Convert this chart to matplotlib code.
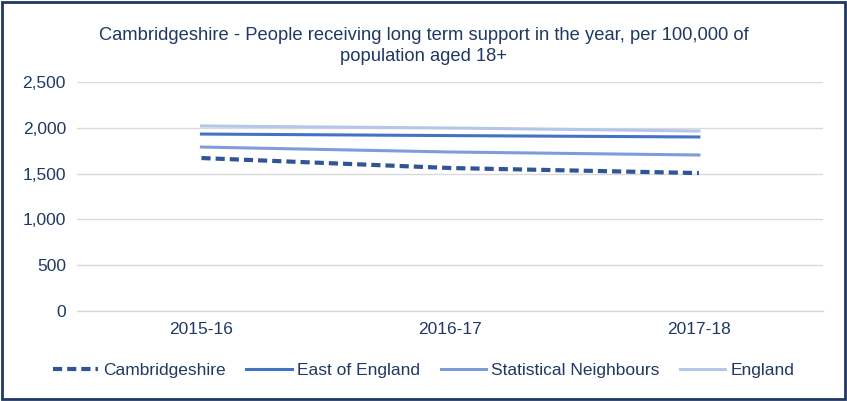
import matplotlib.pyplot as plt
from matplotlib.patches import Rectangle
from matplotlib.ticker import FuncFormatter

years = ["2015-16", "2016-17", "2017-18"]
cambs = [1670, 1561, 1506]
east = [1932, 1915, 1900]
stat_neigh = [1790, 1736, 1703]
england = [2020, 1998, 1965]

txt = "#1F3864"
plt.rcParams['font.family'] = ['Liberation Sans', 'DejaVu Sans']

fig = plt.figure(figsize=(8.47, 4.01), dpi=100)
ax = fig.add_axes([0.091, 0.2244, 0.881, 0.5711])

x = range(len(years))
ax.plot(x, cambs, color="#2F5597", lw=3, ls=(0, (2.2, 1.2)), label="Cambridgeshire")
ax.plot(x, east, color="#4472C4", lw=2.2, label="East of England")
ax.plot(x, stat_neigh, color="#7F9CDA", lw=2.2, label="Statistical Neighbours")
ax.plot(x, england, color="#B4C7E7", lw=2.2, label="England")

ax.set_xlim(-0.5, 2.5)
ax.set_ylim(0, 2500)
ax.set_yticks(range(0, 2501, 500))
ax.yaxis.set_major_formatter(FuncFormatter(lambda v, p: f"{int(v):,}"))
ax.set_xticks(list(x))
ax.set_xticklabels(years)
ax.grid(axis="y", color="#D9D9D9", lw=1)
ax.axhline(0, color="#D9D9D9", lw=1, clip_on=False, zorder=0)
ax.set_axisbelow(True)
for s in ax.spines.values():
    s.set_visible(False)
ax.tick_params(length=0, labelsize=12.5, colors=txt, pad=8)

fig.text(0.5, 0.885, "Cambridgeshire - People receiving long term support in the year, per 100,000 of\npopulation aged 18+",
         ha="center", va="center", fontsize=13.2, color=txt, linespacing=1.25)

fig.legend(loc="center", bbox_to_anchor=(0.5, 0.077), ncol=4, frameon=False,
           fontsize=12.5, labelcolor=txt, handlelength=2.6, columnspacing=1.2, handletextpad=0.3)

fig.patches.append(Rectangle((0.002, 0.004), 0.996, 0.992, transform=fig.transFigure,
                             fill=False, edgecolor=txt, lw=2))

fig.savefig("out.png", dpi=100)
